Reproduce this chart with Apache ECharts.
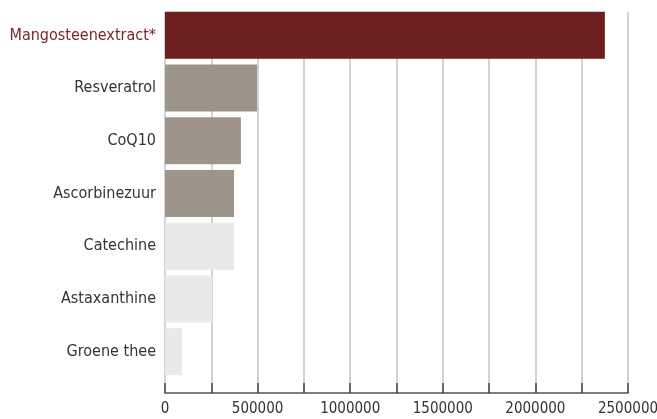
<!DOCTYPE html>
<html>
<head>
<meta charset="utf-8">
<script src="https://cdn.jsdelivr.net/npm/echarts@6/dist/echarts.min.js"></script>
<style>
  html, body { margin: 0; padding: 0; background: #fff; }
  #chart { width: 657px; height: 419px; }
</style>
</head>
<body>
<div id="chart"></div>
<script>
// data
const categories = ["Mangosteenextract*", "Resveratrol", "CoQ10", "Ascorbinezuur", "Catechine", "Astaxanthine", "Groene thee"];
const values = [2375000, 497000, 410000, 373000, 372000, 254000, 92000];
const axisMax = 2500000;
const tickStep = 250000;
const labelStep = 500000;

// kleuren per balk
const barColors = ["#6d1f20", "#9e958a", "#9e958a", "#9e958a", "#e8e9eb", "#e8e9eb", "#e8e9eb"];
const font = "'Liberation Sans Narrow', 'DejaVu Sans Condensed', sans-serif";

const chart = echarts.init(document.getElementById("chart"));

const options = {
  animation: false,
  grid: [
    // achtergrond met rasterlijnen en as
    { left: 165, right: 29, top: 12, bottom: 26, outerBoundsMode: "none", containLabel: false },
    // balken
    { left: 165, right: 29, top: 9, bottom: 41, outerBoundsMode: "none", containLabel: false }
  ],
  xAxis: [
    {
      gridIndex: 0,
      type: "value",
      min: 0,
      max: axisMax,
      interval: tickStep,
      axisLine: { show: true, lineStyle: { color: "#555", width: 1.5 } },
      axisTick: { show: true, inside: true, length: 10, lineStyle: { color: "#444", width: 1.5 } },
      splitLine: { show: true, lineStyle: { color: "#c4c4c4", width: 1.5 } },
      axisLabel: {
        color: "#333",
        fontFamily: font,
        fontSize: 15,
        margin: 9,
        formatter: v => (v % labelStep === 0 ? String(v) : "")
      }
    },
    {
      gridIndex: 1,
      type: "value",
      min: 0,
      max: axisMax,
      show: false
    }
  ],
  yAxis: [
    {
      gridIndex: 0,
      type: "category",
      data: [""],
      show: false
    },
    {
      gridIndex: 1,
      type: "category",
      inverse: true,
      data: categories,
      axisLine: { show: false },
      axisTick: { show: false },
      axisLabel: {
        margin: 9,
        fontFamily: font,
        fontSize: 16,
        color: (v, i) => (i === 0 ? "#7a2527" : "#333")
      }
    }
  ],
  series: [
    {
      type: "bar",
      xAxisIndex: 1,
      yAxisIndex: 1,
      barWidth: 47,
      data: values.map((v, i) => ({ value: v, itemStyle: { color: barColors[i] } }))
    }
  ]
};

chart.setOption(options);
</script>
</body>
</html>
